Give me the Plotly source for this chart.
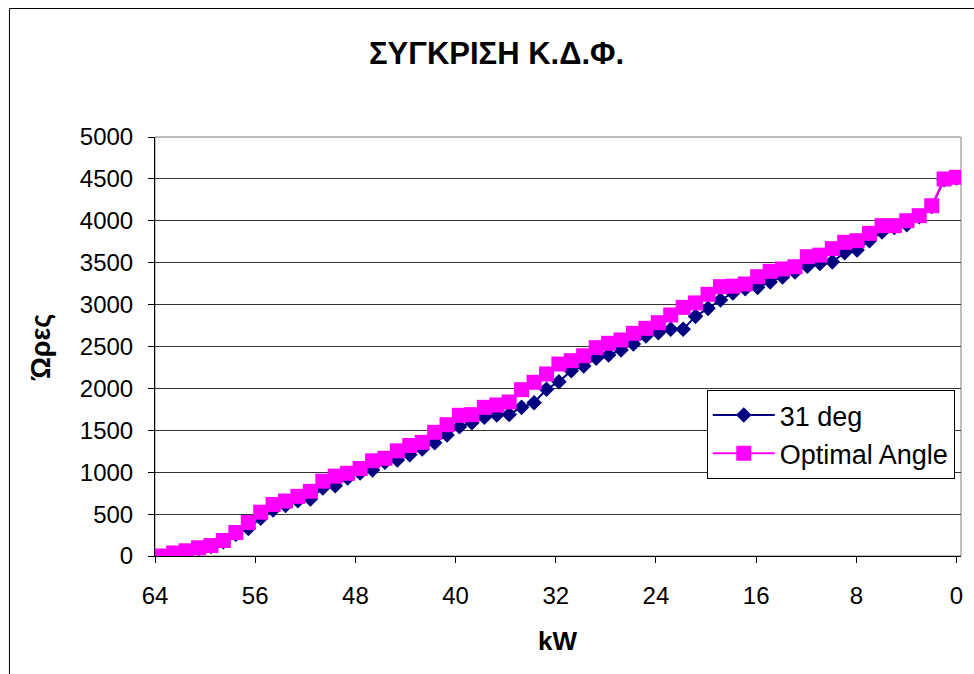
import plotly.graph_objects as go

kw = [63.50, 62.51, 61.52, 60.52, 59.53, 58.54, 57.55, 56.55, 55.56, 54.57,
      53.58, 52.59, 51.59, 50.60, 49.61, 48.62, 47.62, 46.63, 45.64, 44.65,
      43.66, 42.66, 41.67, 40.68, 39.69, 38.70, 37.70, 36.71, 35.72, 34.73,
      33.73, 32.74, 31.75, 30.76, 29.77, 28.77, 27.78, 26.79, 25.80, 24.80,
      23.81, 22.82, 21.83, 20.84, 19.84, 18.85, 17.86, 16.87, 15.88, 14.88,
      13.89, 12.90, 11.91, 10.91, 9.92, 8.93, 7.94, 6.95, 5.95, 4.96,
      3.97, 2.98, 1.98, 0.99, 0.00]

deg31 = [0, 30, 55, 90, 115, 170, 260, 330, 450, 549,
         604, 660, 680, 811, 839, 931, 990, 1026, 1118, 1146,
         1209, 1277, 1352, 1444, 1543, 1591, 1655, 1683, 1690, 1774,
         1829, 1989, 2080, 2212, 2267, 2359, 2399, 2458, 2530, 2625,
         2665, 2705, 2705, 2860, 2955, 3055, 3138, 3190, 3206, 3270,
         3330, 3389, 3457, 3490, 3510, 3620, 3651, 3763, 3866, 3920,
         3954, 4050, 4170, 4490, 4510]

optimal = [0, 36, 62, 98, 125, 185, 280, 400, 523, 615,
           656, 712, 772, 893, 953, 987, 1044, 1136, 1166, 1255,
           1319, 1356, 1476, 1567, 1679, 1687, 1774, 1802, 1838, 1985,
           2073, 2172, 2291, 2331, 2390, 2486, 2538, 2578, 2657, 2717,
           2784, 2876, 2967, 3020, 3123, 3214, 3220, 3246, 3333, 3397,
           3425, 3452, 3572, 3590, 3668, 3743, 3763, 3850, 3942, 3942,
           4001, 4061, 4180, 4499, 4519]

x_ticks = [64, 56, 48, 40, 32, 24, 16, 8, 0]
y_ticks = [0, 500, 1000, 1500, 2000, 2500, 3000, 3500, 4000, 4500, 5000]

FONT = "Liberation Sans, Arial, sans-serif"

fig = go.Figure()
fig.add_trace(go.Scatter(
    x=kw, y=deg31, name="31 deg", mode="lines+markers", legendgroup="a",
    line=dict(color="#000080", width=2),
    marker=dict(symbol="diamond", size=12, color="#000080"),
))
fig.add_trace(go.Scatter(
    x=kw, y=optimal, name="Optimal Angle", mode="lines+markers", legendgroup="b",
    line=dict(color="#FF00FF", width=2),
    marker=dict(symbol="square", size=15, color="#FF00FF"),
))

L, R, T, B = 154.5, 963, 137, 556
W, H = 974, 674
pw, ph = R - L, B - T

def px2x(p):
    return (p - L) / pw

def px2y(p):
    return (B - p) / ph

fig.update_layout(
    width=W, height=H,
    margin=dict(l=L, r=W - R, t=T, b=H - B, pad=0),
    paper_bgcolor="white", plot_bgcolor="white",
    font=dict(family=FONT, color="black", size=24),
    showlegend=True,
    legend=dict(
        x=px2x(708), y=px2y(390), xanchor="left", yanchor="top",
        bordercolor="black", borderwidth=1, bgcolor="white",
        font=dict(size=27, family=FONT, color="black"),
        itemwidth=62, tracegroupgap=0,
    ),
    xaxis=dict(
        range=[64, 64 - (R - L) / 100.5 * 8],
        tickvals=x_ticks, ticktext=[str(v) for v in x_ticks],
        showgrid=False, zeroline=False,
        showline=True, linecolor="black", linewidth=1,
        ticks="outside", ticklen=6, tickcolor="black",
        tickfont=dict(size=24, family=FONT), ticklabelstandoff=12,
    ),
    yaxis=dict(
        range=[0, 5000], tickvals=y_ticks,
        showgrid=True, gridcolor="#333333", gridwidth=1, zeroline=False,
        showline=True, linecolor="black", linewidth=1,
        ticks="outside", ticklen=6, tickcolor="black",
        tickfont=dict(size=24, family=FONT), ticklabelstandoff=10,
    ),
    shapes=[
        dict(type="rect", xref="paper", yref="paper", x0=0, x1=1, y0=0, y1=1,
             line=dict(color="#808080", width=1), layer="below"),
        dict(type="rect", xref="paper", yref="paper",
             x0=px2x(8.5), x1=px2x(990), y0=px2y(8.5), y1=px2y(700),
             line=dict(color="black", width=1), layer="above"),
    ],
    annotations=[
        dict(text="<b>ΣΥΓΚΡΙΣΗ Κ.Δ.Φ.</b>", xref="paper", yref="paper",
             x=px2x(497), y=px2y(53), xanchor="center", yanchor="middle",
             showarrow=False, font=dict(size=31, family=FONT)),
        dict(text="<b>kW</b>", xref="paper", yref="paper",
             x=px2x(558), y=px2y(641), xanchor="center", yanchor="middle",
             showarrow=False, font=dict(size=26, family=FONT)),
        dict(text="<b>Ώρες</b>", xref="paper", yref="paper",
             x=px2x(40), y=px2y(347), xanchor="center", yanchor="middle",
             textangle=-90, showarrow=False, font=dict(size=27, family=FONT)),
    ],
)

fig.write_html("out.html")
